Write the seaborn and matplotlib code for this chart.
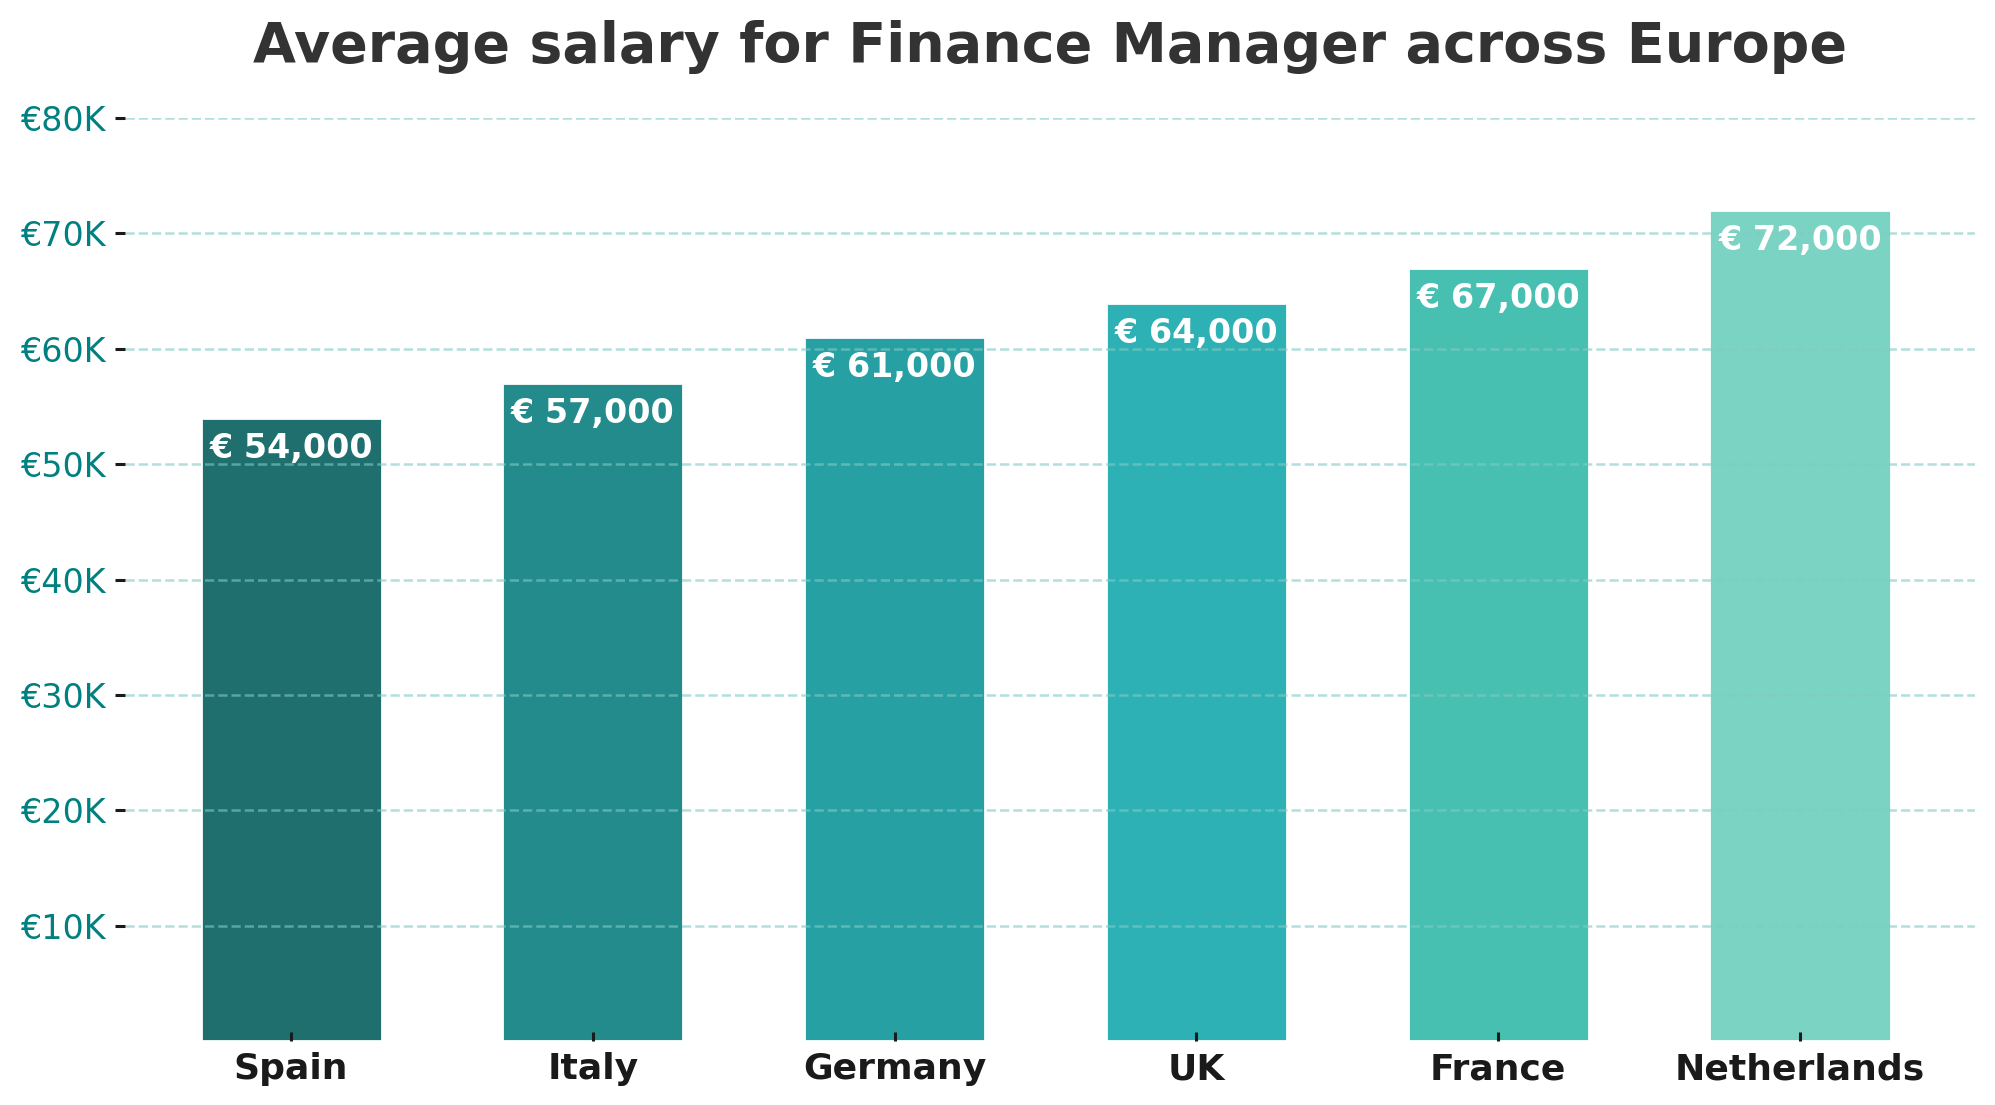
"""Average salary for Finance Manager across Europe - bar chart with seaborn."""
import matplotlib
matplotlib.use('Agg')
import matplotlib.pyplot as plt
from matplotlib.ticker import FuncFormatter
import pandas as pd
import seaborn as sns

countries = ['Spain', 'Italy', 'Germany', 'UK', 'France', 'Netherlands']
salaries = [54000, 57000, 61000, 64000, 67000, 72000]
bar_colors = ['#1f6f6f', '#238b8b', '#27a0a4', '#2eb1b5', '#47c0b1', '#7bd3c3']
y_ticks = [10000, 20000, 30000, 40000, 50000, 60000, 70000, 80000]

df = pd.DataFrame({'country': countries, 'salary': salaries})

sns.set_style('white')
plt.rcParams['font.family'] = ['DejaVu Sans']

fig = plt.figure(figsize=(9.975, 5.525), dpi=200)
ax = fig.add_axes([0.0627, 0.0579, 0.9273, 0.8353])

sns.barplot(data=df, x='country', y='salary', hue='country', palette=bar_colors,
            width=0.6, saturation=1, legend=False, ax=ax)

ax.set_xlim(-0.55, 5.58)
ax.set_ylim(0, 80000)
ax.set_yticks(y_ticks)
ax.yaxis.set_major_formatter(FuncFormatter(lambda v, _: f'€{v / 1000:.0f}K'))
ax.set_xlabel('')
ax.set_ylabel('')

# dashed grid lines drawn over the bars
ax.set_axisbelow(False)
ax.grid(axis='y', color='#80cbc4', alpha=0.6, linestyle='--', linewidth=0.9)
ax.grid(axis='x', visible=False)

for side in ['top', 'right', 'left', 'bottom']:
    ax.spines[side].set_visible(False)

ax.tick_params(axis='y', direction='out', length=3.6, width=1.1, color='#1a1a1a',
               labelcolor='#008080', labelsize=12, left=True)
ax.tick_params(axis='x', direction='in', length=3.3, width=1.1, color='#1a1a1a',
               labelcolor='#1a1a1a', labelsize=13, pad=4, bottom=True)
for label in ax.get_xticklabels():
    label.set_fontweight('bold')

# salary labels inside the top of each bar
for bar, salary in zip(ax.patches, salaries):
    ax.annotate(f'€ {salary:,}', (bar.get_x() + bar.get_width() / 2, bar.get_height()),
                xytext=(0, -5), textcoords='offset points', ha='center', va='top',
                color='white', fontsize=12, fontweight='bold', zorder=4)

ax.set_title('Average salary for Finance Manager across Europe', fontsize=20,
             fontweight='bold', color='#333333', pad=20)

fig.savefig('out.png', dpi=200)
